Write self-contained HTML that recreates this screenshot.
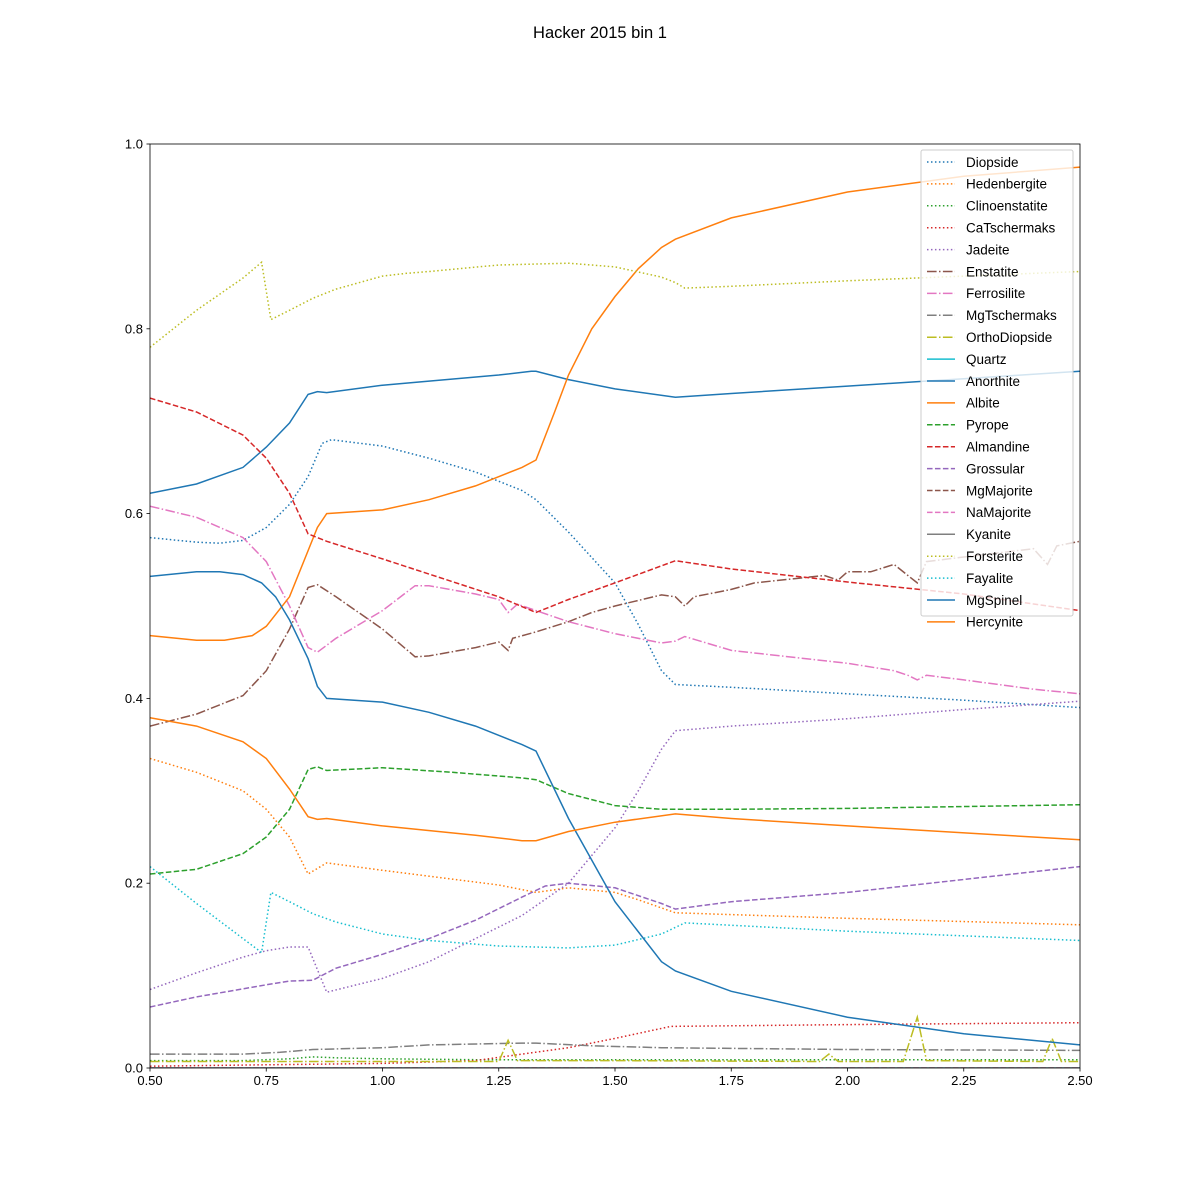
<!DOCTYPE html>
<html><head><meta charset="utf-8"><style>
body{margin:0;background:#fff;font-family:"Liberation Sans","DejaVu Sans",sans-serif;}
svg{display:block}
</style></head><body>
<svg id="chart" width="1200" height="1200" xmlns="http://www.w3.org/2000/svg">
<rect width="1200" height="1200" fill="#fff"/>
<text x="600" y="38" text-anchor="middle" font-size="16.5" font-family="Liberation Sans, sans-serif">Hacker 2015 bin 1</text>
<g id="plot"></g>
</svg>
<script>
const xTicks=[0.5,0.75,1.0,1.25,1.5,1.75,2.0,2.25,2.5];
const xTickLabels=["0.50","0.75","1.00","1.25","1.50","1.75","2.00","2.25","2.50"];
const yTicks=[0,0.2,0.4,0.6,0.8,1.0];
const yTickLabels=["0.0","0.2","0.4","0.6","0.8","1.0"];
const seriesNames=["Diopside","Hedenbergite","Clinoenstatite","CaTschermaks","Jadeite","Enstatite","Ferrosilite","MgTschermaks","OrthoDiopside","Quartz","Anorthite","Albite","Pyrope","Almandine","Grossular","MgMajorite","NaMajorite","Kyanite","Forsterite","Fayalite","MgSpinel","Hercynite"];
const diopsideX=[0.5,0.6,0.65,0.7,0.75,0.8,0.84,0.87,0.89,1.0,1.1,1.2,1.3,1.33,1.4,1.5,1.55,1.6,1.63,1.75,2.0,2.25,2.5];
const diopsideY=[0.574,0.569,0.568,0.571,0.585,0.61,0.64,0.676,0.68,0.673,0.66,0.645,0.625,0.615,0.58,0.525,0.48,0.43,0.415,0.412,0.405,0.398,0.39];
const hedenbergiteX=[0.5,0.6,0.7,0.75,0.8,0.84,0.88,1.0,1.25,1.33,1.4,1.5,1.55,1.63,1.75,2.0,2.5];
const hedenbergiteY=[0.335,0.32,0.3,0.28,0.25,0.21,0.222,0.214,0.198,0.19,0.195,0.19,0.182,0.168,0.166,0.162,0.155];
const clinoenstatiteX=[0.5,0.7,0.8,0.85,0.9,1.0,1.2,1.5,2.0,2.5];
const clinoenstatiteY=[0.008,0.008,0.01,0.012,0.011,0.01,0.009,0.009,0.009,0.009];
const caTschermaksX=[0.5,1.0,1.2,1.3,1.4,1.5,1.62,2.0,2.5];
const caTschermaksY=[0.002,0.005,0.008,0.015,0.022,0.032,0.045,0.047,0.049];
const jadeiteX=[0.5,0.6,0.7,0.75,0.8,0.84,0.88,1.0,1.1,1.2,1.3,1.4,1.5,1.55,1.6,1.63,1.75,2.0,2.25,2.5];
const jadeiteY=[0.085,0.103,0.12,0.127,0.131,0.131,0.082,0.097,0.115,0.14,0.165,0.2,0.26,0.3,0.345,0.365,0.37,0.378,0.388,0.397];
const enstatiteX=[0.5,0.6,0.7,0.75,0.8,0.84,0.86,0.9,1.0,1.07,1.1,1.2,1.25,1.27,1.28,1.33,1.4,1.45,1.5,1.6,1.63,1.65,1.67,1.75,1.8,1.95,1.98,2.0,2.05,2.1,2.13,2.15,2.17,2.25,2.4,2.43,2.45,2.5];
const enstatiteY=[0.37,0.383,0.403,0.43,0.475,0.52,0.523,0.51,0.475,0.445,0.446,0.455,0.461,0.452,0.465,0.472,0.483,0.493,0.5,0.512,0.51,0.5,0.51,0.518,0.525,0.533,0.528,0.537,0.537,0.545,0.533,0.525,0.548,0.553,0.562,0.545,0.565,0.57];
const ferrosiliteX=[0.5,0.6,0.7,0.75,0.8,0.84,0.86,0.9,1.0,1.07,1.1,1.2,1.25,1.27,1.29,1.33,1.4,1.5,1.6,1.63,1.65,1.75,2.0,2.1,2.13,2.15,2.17,2.25,2.4,2.5];
const ferrosiliteY=[0.608,0.596,0.574,0.548,0.5,0.455,0.45,0.465,0.495,0.522,0.522,0.513,0.507,0.493,0.502,0.495,0.483,0.47,0.46,0.462,0.467,0.452,0.438,0.43,0.425,0.42,0.425,0.42,0.41,0.405];
const mgTschermaksX=[0.5,0.7,0.78,0.85,1.0,1.1,1.3,1.33,1.45,1.6,2.0,2.5];
const mgTschermaksY=[0.015,0.015,0.017,0.02,0.022,0.025,0.027,0.027,0.024,0.022,0.02,0.019];
const orthoDiopsideX=[0.5,1.25,1.27,1.29,1.5,1.94,1.96,1.98,2.12,2.15,2.17,2.42,2.44,2.46,2.5];
const orthoDiopsideY=[0.007,0.007,0.03,0.008,0.008,0.007,0.015,0.007,0.007,0.055,0.008,0.007,0.032,0.007,0.007];
const quartzX=[0.5,2.5];const quartzY=[0,0];
const anorthiteX=[0.5,0.6,0.7,0.75,0.8,0.84,0.86,0.88,1.0,1.25,1.32,1.33,1.4,1.5,1.63,1.75,2.0,2.25,2.5];
const anorthiteY=[0.622,0.632,0.65,0.672,0.698,0.729,0.732,0.731,0.739,0.75,0.754,0.754,0.745,0.735,0.726,0.73,0.738,0.746,0.754];
const albiteX=[0.5,0.6,0.66,0.72,0.75,0.8,0.84,0.86,0.88,1.0,1.1,1.2,1.3,1.33,1.37,1.4,1.45,1.5,1.55,1.6,1.63,1.75,2.0,2.25,2.5];
const albiteY=[0.468,0.463,0.463,0.468,0.478,0.51,0.56,0.585,0.6,0.604,0.615,0.63,0.65,0.658,0.71,0.75,0.8,0.835,0.865,0.888,0.897,0.92,0.948,0.965,0.975];
const pyropeX=[0.5,0.6,0.7,0.75,0.8,0.84,0.86,0.88,1.0,1.15,1.3,1.33,1.4,1.5,1.6,1.75,2.0,2.5];
const pyropeY=[0.21,0.215,0.232,0.25,0.28,0.323,0.326,0.322,0.325,0.32,0.314,0.312,0.297,0.284,0.28,0.28,0.281,0.285];
const almandineX=[0.5,0.6,0.7,0.75,0.8,0.84,0.88,1.0,1.25,1.33,1.4,1.5,1.63,1.75,2.0,2.25,2.5];
const almandineY=[0.725,0.71,0.685,0.66,0.622,0.578,0.57,0.551,0.51,0.493,0.507,0.525,0.549,0.54,0.526,0.513,0.495];
const grossularX=[0.5,0.6,0.75,0.8,0.85,0.9,1.0,1.1,1.2,1.3,1.35,1.4,1.5,1.6,1.63,1.75,2.0,2.25,2.5];
const grossularY=[0.066,0.077,0.09,0.094,0.095,0.108,0.123,0.14,0.16,0.185,0.197,0.2,0.195,0.178,0.172,0.18,0.19,0.204,0.218];
const mgMajoriteX=[0.5,2.5];const mgMajoriteY=[0,0];
const naMajoriteX=[0.5,2.5];const naMajoriteY=[0,0];
const kyaniteX=[0.5,2.5];const kyaniteY=[0,0];
const forsteriteX=[0.5,0.6,0.7,0.74,0.76,0.8,0.85,0.9,1.0,1.05,1.1,1.25,1.4,1.5,1.6,1.63,1.65,1.75,2.0,2.25,2.5];
const forsteriteY=[0.78,0.82,0.855,0.872,0.81,0.82,0.833,0.843,0.857,0.86,0.862,0.869,0.871,0.867,0.856,0.85,0.844,0.846,0.852,0.857,0.862];
const fayaliteX=[0.5,0.6,0.7,0.74,0.76,0.8,0.85,0.9,1.0,1.1,1.25,1.4,1.5,1.6,1.65,2.0,2.5];
const fayaliteY=[0.218,0.178,0.14,0.125,0.19,0.18,0.167,0.158,0.145,0.138,0.132,0.13,0.133,0.145,0.157,0.148,0.138];
const mgSpinelX=[0.5,0.6,0.65,0.7,0.74,0.77,0.8,0.84,0.86,0.88,1.0,1.1,1.2,1.3,1.33,1.4,1.5,1.6,1.63,1.75,2.0,2.25,2.5];
const mgSpinelY=[0.532,0.537,0.537,0.534,0.525,0.51,0.485,0.443,0.413,0.4,0.396,0.385,0.37,0.35,0.343,0.27,0.18,0.115,0.105,0.083,0.055,0.037,0.025];
const hercyniteX=[0.5,0.6,0.7,0.75,0.8,0.84,0.86,0.88,1.0,1.2,1.3,1.33,1.4,1.5,1.63,1.75,2.0,2.5];
const hercyniteY=[0.379,0.37,0.353,0.335,0.302,0.272,0.269,0.27,0.262,0.252,0.246,0.246,0.256,0.266,0.275,0.27,0.262,0.247];

const xs=[diopsideX,hedenbergiteX,clinoenstatiteX,caTschermaksX,jadeiteX,enstatiteX,ferrosiliteX,mgTschermaksX,orthoDiopsideX,quartzX,anorthiteX,albiteX,pyropeX,almandineX,grossularX,mgMajoriteX,naMajoriteX,kyaniteX,forsteriteX,fayaliteX,mgSpinelX,hercyniteX];
const ys=[diopsideY,hedenbergiteY,clinoenstatiteY,caTschermaksY,jadeiteY,enstatiteY,ferrosiliteY,mgTschermaksY,orthoDiopsideY,quartzY,anorthiteY,albiteY,pyropeY,almandineY,grossularY,mgMajoriteY,naMajoriteY,kyaniteY,forsteriteY,fayaliteY,mgSpinelY,hercyniteY];
const colors=["#1f77b4","#ff7f0e","#2ca02c","#d62728","#9467bd","#8c564b","#e377c2","#7f7f7f","#bcbd22","#17becf","#1f77b4","#ff7f0e","#2ca02c","#d62728","#9467bd","#8c564b","#e377c2","#7f7f7f","#bcbd22","#17becf","#1f77b4","#ff7f0e"];
const styles=["dot","dot","dot","dot","dot","dashdot","dashdot","dashdot","dashdot","solid","solid","solid","dash","dash","dash","dash","dash","solid","dot","dot","solid","solid"];
const dashes={solid:"",dot:"1.5,2.475",dash:"5.55,2.4",dashdot:"9.6,2.4,1.5,2.4"};

const L=150,R=1080,T=144,B=1068;
const sx=v=>L+(v-0.5)/2*(R-L);
const sy=v=>B-v*(B-T);
const NS="http://www.w3.org/2000/svg";
const g=document.getElementById('plot');
function mk(tag,attrs,parent){const e=document.createElementNS(NS,tag);for(const k in attrs)e.setAttribute(k,attrs[k]);(parent||g).appendChild(e);return e;}

const clip=mk('clipPath',{id:'clip'});mk('rect',{x:L,y:T,width:R-L,height:B-T},clip);
const lines=mk('g',{'clip-path':'url(#clip)'});


for(let i=0;i<seriesNames.length;i++){
  const d=xs[i].map((x,j)=>(j?'L':'M')+sx(x).toFixed(1)+','+sy(ys[i][j]).toFixed(1)).join(' ');
  const p=mk('path',{d:d,fill:'none',stroke:colors[i],'stroke-width':1.5,'stroke-dasharray':dashes[styles[i]]},lines);
  
  
}
const frame=mk('rect',{x:L,y:T,width:R-L,height:B-T,fill:'none',stroke:'#000','stroke-width':0.8});


xTicks.forEach((t,i)=>{
  mk('line',{x1:sx(t),x2:sx(t),y1:B,y2:B+3.5,stroke:'#000','stroke-width':0.8});
  const tx=mk('text',{x:sx(t),y:B+17,'text-anchor':'middle','font-size':13});
  tx.textContent=xTickLabels[i];
  
  
});
yTicks.forEach((t,i)=>{
  mk('line',{x1:L-3.5,x2:L,y1:sy(t),y2:sy(t),stroke:'#000','stroke-width':0.8});
  const tx=mk('text',{x:L-7,y:sy(t)+4.5,'text-anchor':'end','font-size':13});
  tx.textContent=yTickLabels[i];
  
  
});
const leg=mk('g',{});


mk('rect',{x:921,y:150,width:152,height:466,fill:'#fff','fill-opacity':0.8,stroke:'#ccc','stroke-width':1,rx:2},leg);
seriesNames.forEach((n,i)=>{
  const y=162+i*21.9;
  const e=mk('g',{},leg);
  
  
  mk('line',{x1:927,x2:955,y1:y,y2:y,stroke:colors[i],'stroke-width':1.5,'stroke-dasharray':dashes[styles[i]]},e);
  const t=mk('text',{x:966,y:y+4.8,'font-size':13.5},e);
  t.textContent=n;
});
</script>
</body></html>
